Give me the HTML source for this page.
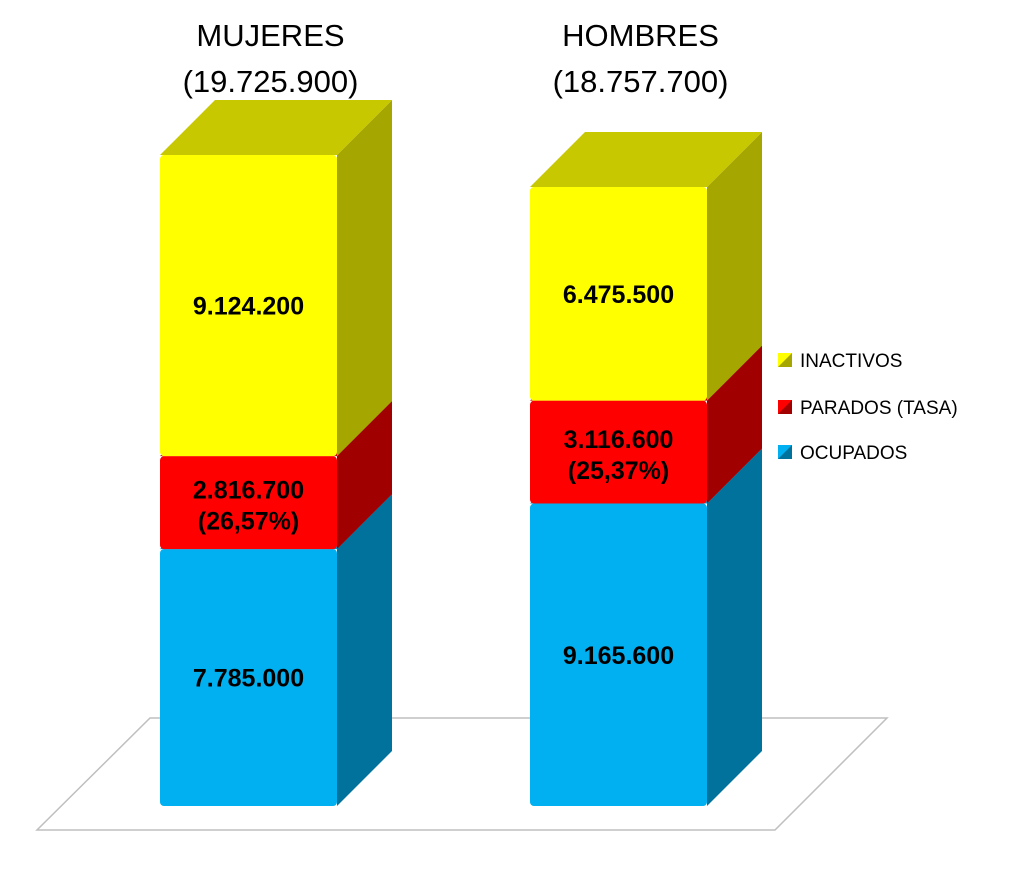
<!DOCTYPE html>
<html><head><meta charset="utf-8"><style>
body{margin:0;background:#fff;width:1011px;height:891px;overflow:hidden}
svg{display:block;font-family:"Liberation Sans",sans-serif}
</style></head><body>
<svg id="chart" width="1011" height="891">
<polygon points="37,830 775,830 887,718 150,718" fill="#fff" stroke="#bfbfbf" stroke-width="1.5"/>
<g id="bars"></g>
<g id="legend"></g>
</svg>
<script>
const categories=["MUJERES","HOMBRES"];
const totals=["(19.725.900)","(18.757.700)"];
const seriesNames=["OCUPADOS","PARADOS (TASA)","INACTIVOS"];
const ocupados=[7785000,9165600];
const parados=[2816700,3116600];
const inactivos=[9124200,6475500];
const paradosRate=["26,57%","25,37%"];
const NS="http://www.w3.org/2000/svg";
const baseY=806, scale=33/1e6, barW=177, dx=55, dy=55;
const barX=[160,530];
const y=v=>baseY-v*scale;
const colors=[["#00B0F0","#0090C6","#00729C"],["#FF0000","#C80000","#A00000"],["#FFFF00","#C8C800","#A6A600"]];
const svg=document.getElementById('bars');
function el(t,a,p){const e=document.createElementNS(NS,t);for(const k in a)e.setAttribute(k,a[k]);(p||svg).appendChild(e);return e;}
const series=[ocupados,parados,inactivos];
categories.forEach((c,i)=>{
  const x=barX[i];let cum=0;
  series.forEach((s,j)=>{
    const y0=y(cum), y1=y(cum+s[i]);cum+=s[i];
    const g=el('g',{});
    
    
    el('polygon',{points:`${x+barW},${y0} ${x+barW+dx},${y0-dy} ${x+barW+dx},${y1-dy} ${x+barW},${y1}`,fill:colors[j][2]},g);
    el('polygon',{points:`${x},${y1} ${x+dx},${y1-dy} ${x+barW+dx},${y1-dy} ${x+barW},${y1}`,fill:colors[j][1]},g);
    el('rect',{x:x,y:y1,width:barW,height:y0-y1,fill:colors[j][0],rx:4},g);
    const cx=x+barW/2, cy=(y0+y1)/2;
    const lbl=s[i].toLocaleString('de-DE');
    if(j===1){
      const t1=el('text',{x:cx,y:cy-4,'text-anchor':'middle','font-size':25,'font-weight':'bold',fill:'#000'},g);t1.textContent=lbl;
      
      const t2=el('text',{x:cx,y:cy+27,'text-anchor':'middle','font-size':25,'font-weight':'bold',fill:'#000'},g);t2.textContent='('+paradosRate[i]+')';
      
    } else {
      const t=el('text',{x:cx,y:cy+9,'text-anchor':'middle','font-size':25,'font-weight':'bold',fill:'#000'},g);t.textContent=lbl;
      
    }
  });
  const cx=x+barW/2+22;
  const t=el('text',{x:cx,y:46,'text-anchor':'middle','font-size':31,fill:'#000'});t.textContent=c;
  
  const t2=el('text',{x:cx,y:92,'text-anchor':'middle','font-size':31,fill:'#000'});t2.textContent=totals[i];
  
});
const leg=document.getElementById('legend');
const legY=[452,407,360];
seriesNames.forEach((n,j)=>{
  const g=el('g',{},leg);
  
  
  const ly=legY[j];
  el('rect',{x:778,y:ly-7,width:14,height:14,fill:colors[j][0]},g);
  el('polygon',{points:`${792},${ly-7} ${792},${ly+7} ${778},${ly+7}`,fill:colors[j][2]},g);
  const t=el('text',{x:800,y:ly+7,'font-size':19,fill:'#000'},g);t.textContent=n;
});
</script>
</body></html>
